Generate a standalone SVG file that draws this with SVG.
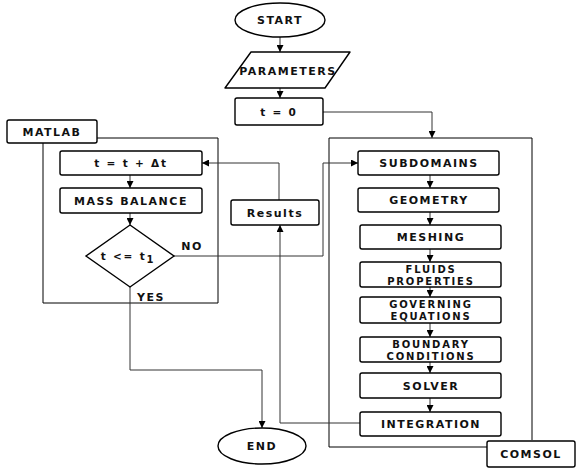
<svg xmlns="http://www.w3.org/2000/svg" width="582" height="470" viewBox="0 0 582 470">
<style>
.box{fill:#fff;stroke:#000;stroke-width:1.4}
.frame{fill:none;stroke:#000;stroke-width:1}
.con{fill:none;stroke:#333;stroke-width:1}
.t{font-family:"DejaVu Sans",Verdana,sans-serif;font-weight:bold;font-size:11px;letter-spacing:1.5px;text-anchor:middle;fill:#111}
.t2{font-family:"DejaVu Sans",Verdana,sans-serif;font-weight:bold;font-size:10px;letter-spacing:1.8px;text-anchor:middle;fill:#111}
.n{font-family:"DejaVu Sans",Verdana,sans-serif;font-weight:bold;font-size:10.5px;letter-spacing:1.8px;text-anchor:middle;fill:#111}
</style>
<defs>
<marker id="ah" viewBox="0 0 8 8" refX="8" refY="4" markerWidth="7" markerHeight="7" markerUnits="userSpaceOnUse" orient="auto">
<path d="M0,0 L8,4 L0,8 z" fill="#000"/>
</marker>
</defs>
<rect width="582" height="470" fill="#fff"/>
<g id="matlab-frame">
<path class="frame" d="M97,138 H218 V303 H43 V143"/>
</g>
<g id="comsol-frame">
<path class="frame" d="M532,440 V138 H329 V447 H487"/>
</g>
<g id="connectors">
<path class="con" d="M280,37 V52" marker-end="url(#ah)"/>
<path class="con" d="M280,88 V98" marker-end="url(#ah)"/>
<path class="con" d="M323,112 H432 V138" marker-end="url(#ah)"/>
<path class="con" d="M130,175 V188" marker-end="url(#ah)"/>
<path class="con" d="M130,213 V225" marker-end="url(#ah)"/>
<path class="con" d="M174,256 H323 V163 H358" marker-end="url(#ah)"/>
<path class="con" d="M130,287 V370 H262 V428" marker-end="url(#ah)"/>
<path class="con" d="M279,200 V163 H202" marker-end="url(#ah)"/>
<path class="con" d="M360,423 H280 V225" marker-end="url(#ah)"/>
<path class="con" d="M430,175 V188" marker-end="url(#ah)"/>
<path class="con" d="M430,212 V225" marker-end="url(#ah)"/>
<path class="con" d="M430,249 V262" marker-end="url(#ah)"/>
<path class="con" d="M430,287 V297" marker-end="url(#ah)"/>
<path class="con" d="M430,323 V337" marker-end="url(#ah)"/>
<path class="con" d="M430,362 V373" marker-end="url(#ah)"/>
<path class="con" d="M430,398 V412" marker-end="url(#ah)"/>
</g>
<g id="start">
<ellipse class="box" cx="280" cy="20" rx="45" ry="17"/>
<text class="t" x="280" y="24">START</text>
</g>
<g id="parameters">
<path class="box" stroke-linejoin="round" d="M251,52 H350 L325,88 H225 Z"/>
<text class="t" x="288" y="75">PARAMETERS</text>
</g>
<g id="t0">
<rect class="box" x="235" y="98" width="88" height="27" rx="2"/>
<text class="n" x="279" y="116">t = 0</text>
</g>
<g id="matlab">
<rect class="box" x="7" y="120" width="90" height="23" rx="2"/>
<text class="t" x="52" y="136">MATLAB</text>
</g>
<g id="increment">
<rect class="box" x="60" y="151" width="142" height="24" rx="2"/>
<text class="n" x="131" y="167">t = t + Δt</text>
</g>
<g id="mass-balance">
<rect class="box" x="60" y="188" width="142" height="25" rx="2"/>
<text class="t" x="131" y="205">MASS BALANCE</text>
</g>
<g id="decision">
<path class="box" d="M130,225 L174,256 L130,287 L86,256 Z"/>
<text class="n" x="128" y="260">t &lt;= t<tspan dy="3" font-size="10">1</tspan></text>
</g>
<g id="label-no">
<text class="t" x="192" y="250">NO</text>
</g>
<g id="label-yes">
<text class="t" x="151" y="301">YES</text>
</g>
<g id="results">
<rect class="box" x="231" y="200" width="88" height="25" rx="2"/>
<text class="t" x="275" y="217">Results</text>
</g>
<g id="end">
<ellipse class="box" cx="262" cy="446" rx="44" ry="18"/>
<text class="t" x="262" y="450">END</text>
</g>
<g id="subdomains">
<rect class="box" x="358" y="151" width="141" height="24" rx="2"/>
<text class="t" x="429" y="167">SUBDOMAINS</text>
</g>
<g id="geometry">
<rect class="box" x="358" y="188" width="141" height="24" rx="2"/>
<text class="t" x="429" y="204">GEOMETRY</text>
</g>
<g id="meshing">
<rect class="box" x="360" y="225" width="141" height="24" rx="2"/>
<text class="t" x="431" y="241">MESHING</text>
</g>
<g id="fluids">
<rect class="box" x="360" y="262" width="141" height="25" rx="2"/>
<text class="t2" x="431" y="273">FLUIDS</text>
<text class="t2" x="431" y="285">PROPERTIES</text>
</g>
<g id="governing">
<rect class="box" x="360" y="297" width="141" height="26" rx="2"/>
<text class="t2" x="431" y="308">GOVERNING</text>
<text class="t2" x="431" y="320">EQUATIONS</text>
</g>
<g id="boundary">
<rect class="box" x="360" y="337" width="141" height="25" rx="2"/>
<text class="t2" x="431" y="348">BOUNDARY</text>
<text class="t2" x="431" y="360">CONDITIONS</text>
</g>
<g id="solver">
<rect class="box" x="360" y="373" width="141" height="25" rx="2"/>
<text class="t" x="431" y="390">SOLVER</text>
</g>
<g id="integration">
<rect class="box" x="360" y="412" width="141" height="24" rx="2"/>
<text class="t" x="431" y="428">INTEGRATION</text>
</g>
<g id="comsol">
<rect class="box" x="487" y="441" width="88" height="26" rx="2"/>
<text class="t" x="531" y="458">COMSOL</text>
</g>
</svg>
